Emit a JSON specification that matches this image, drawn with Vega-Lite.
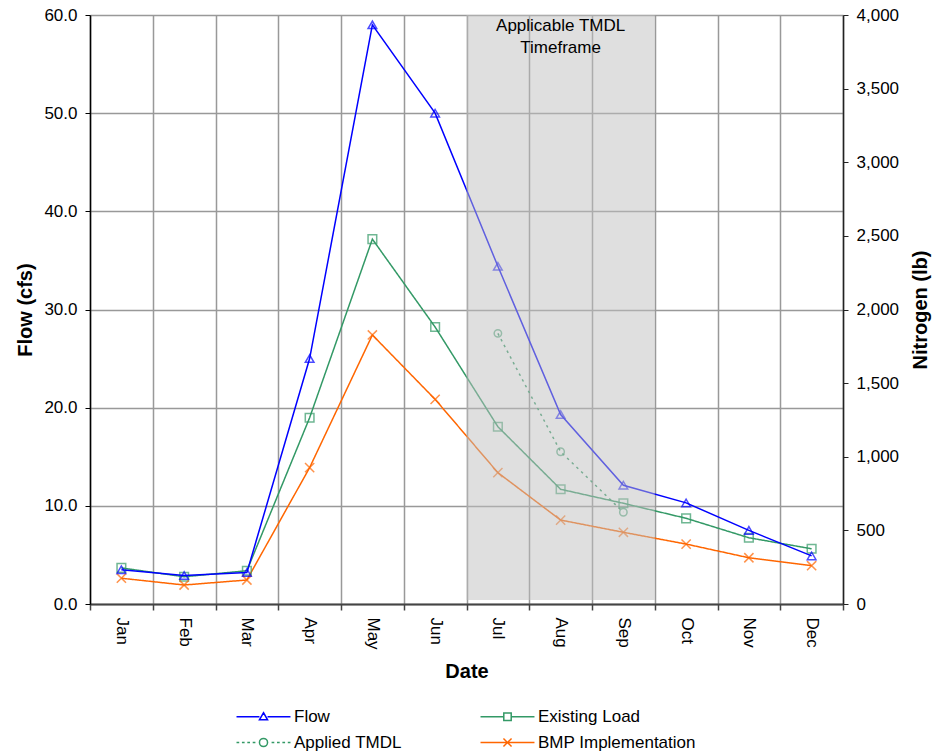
{
  "$schema": "https://vega.github.io/schema/vega-lite/v6.json",
  "width": 753,
  "height": 589,
  "autosize": "none",
  "padding": {"left": 90, "top": 15, "right": 89, "bottom": 151},
  "background": "white",
  "config": {
    "font": "Liberation Sans",
    "view": {"stroke": null},
    "axis": {"labelFontSize": 17, "labelColor": "#000", "titleFontSize": 20, "titleFontWeight": "bold", "titleColor": "#000", "labelFlush": false},
    "text": {"font": "Liberation Sans"}
  },
  "datasets": {
    "obs": [
      {"month": "Jan", "series": "Flow", "value": 3.5},
      {"month": "Feb", "series": "Flow", "value": 2.9},
      {"month": "Mar", "series": "Flow", "value": 3.2},
      {"month": "Apr", "series": "Flow", "value": 25.0},
      {"month": "May", "series": "Flow", "value": 59.0},
      {"month": "Jun", "series": "Flow", "value": 50.0},
      {"month": "Jul", "series": "Flow", "value": 34.4},
      {"month": "Aug", "series": "Flow", "value": 19.3},
      {"month": "Sep", "series": "Flow", "value": 12.1},
      {"month": "Oct", "series": "Flow", "value": 10.3},
      {"month": "Nov", "series": "Flow", "value": 7.5},
      {"month": "Dec", "series": "Flow", "value": 4.9},
      {"month": "Jan", "series": "Existing Load", "value": 245},
      {"month": "Feb", "series": "Existing Load", "value": 185},
      {"month": "Mar", "series": "Existing Load", "value": 226},
      {"month": "Apr", "series": "Existing Load", "value": 1265},
      {"month": "May", "series": "Existing Load", "value": 2478},
      {"month": "Jun", "series": "Existing Load", "value": 1881},
      {"month": "Jul", "series": "Existing Load", "value": 1204},
      {"month": "Aug", "series": "Existing Load", "value": 779},
      {"month": "Sep", "series": "Existing Load", "value": 684},
      {"month": "Oct", "series": "Existing Load", "value": 582},
      {"month": "Nov", "series": "Existing Load", "value": 450},
      {"month": "Dec", "series": "Existing Load", "value": 375},
      {"month": "Jul", "series": "Applied TMDL", "value": 1838},
      {"month": "Aug", "series": "Applied TMDL", "value": 1034},
      {"month": "Sep", "series": "Applied TMDL", "value": 623},
      {"month": "Jan", "series": "BMP Implementation", "value": 175},
      {"month": "Feb", "series": "BMP Implementation", "value": 129},
      {"month": "Mar", "series": "BMP Implementation", "value": 163},
      {"month": "Apr", "series": "BMP Implementation", "value": 926},
      {"month": "May", "series": "BMP Implementation", "value": 1827},
      {"month": "Jun", "series": "BMP Implementation", "value": 1390},
      {"month": "Jul", "series": "BMP Implementation", "value": 892},
      {"month": "Aug", "series": "BMP Implementation", "value": 570},
      {"month": "Sep", "series": "BMP Implementation", "value": 487},
      {"month": "Oct", "series": "BMP Implementation", "value": 407},
      {"month": "Nov", "series": "BMP Implementation", "value": 314},
      {"month": "Dec", "series": "BMP Implementation", "value": 260}
    ],
    "shade": [{"month": "Jul"}, {"month": "Aug"}, {"month": "Sep"}],
    "note": [{"month": "Aug", "label": ["Applicable TMDL", "Timeframe"]}]
  },
  "encoding": {
    "x": {
      "field": "month", "type": "ordinal",
      "scale": {"type": "band", "domain": ["Jan", "Feb", "Mar", "Apr", "May", "Jun", "Jul", "Aug", "Sep", "Oct", "Nov", "Dec"], "paddingInner": 0, "paddingOuter": 0},
      "axis": {"title": "Date", "labelAngle": 90, "labelAlign": "left", "labelBaseline": "middle", "tickBand": "extent", "grid": true, "gridColor": "#999", "gridWidth": 1.5, "domainColor": "#444", "domainWidth": 2, "tickColor": "#444", "tickWidth": 1.5, "tickSize": 6, "labelPadding": 7, "titlePadding": 12}
    }
  },
  "layer": [
    {
      "data": {"name": "obs"},
      "transform": [{"filter": "datum.series !== 'Flow'"}],
      "encoding": {
        "y": {"field": "value", "type": "quantitative", "scale": {"domain": [0, 4000]},
          "axis": {"title": "Nitrogen (lb)", "orient": "right", "format": ",.0f", "values": [0, 500, 1000, 1500, 2000, 2500, 3000, 3500, 4000], "grid": false, "domainColor": "#222", "domainWidth": 1.5, "tickColor": "#222", "tickSize": 5, "labelPadding": 8, "titleAngle": 270, "titleBaseline": "top", "titlePadding": 12}},
        "color": {"field": "series", "type": "nominal",
          "scale": {"domain": ["Flow", "Existing Load", "Applied TMDL", "BMP Implementation"], "range": ["#0000FF", "#339966", "#339966", "#FF6600"]},
          "legend": {"title": null, "orient": "none", "legendX": 165, "legendY": 693, "direction": "horizontal", "columns": 2, "columnPadding": 75, "rowPadding": 8, "labelFontSize": 17, "labelColor": "#000", "labelOffset": 22, "symbolSize": 182,
            "encode": {"symbols": {"update": {
              "shape": {"signal": "datum.value === 'Flow' ? 'M-4,0L-0.6,0M0.6,0L4,0M0,-0.6L0.6,0.45L-0.6,0.45Z' : datum.value === 'Existing Load' ? 'M-4,0L-0.55,0M0.55,0L4,0M-0.55,-0.55L0.55,-0.55L0.55,0.55L-0.55,0.55Z' : datum.value === 'Applied TMDL' ? 'M-4,0L-3.6,0M-3.2,0L-2.8,0M-2.4,0L-2,0M-1.6,0L-1.2,0M1.2,0L1.6,0M2,0L2.4,0M2.8,0L3.2,0M3.6,0L4,0M0.6,0A0.6,0.6,0,1,1,-0.6,0A0.6,0.6,0,1,1,0.6,0' : 'M-4,0L4,0M-0.6,-0.6L0.6,0.6M-0.6,0.6L0.6,-0.6'"},
              "fill": {"value": "transparent"},
              "stroke": {"scale": "color", "field": "value"},
              "strokeWidth": {"value": 1.5},
              "opacity": {"value": 1},
              "size": {"value": 182}
            }}}}
        }
      },
      "layer": [
        {"mark": {"type": "line", "strokeWidth": 1.5},
         "encoding": {"strokeDash": {"field": "series", "type": "nominal", "scale": {"domain": ["Existing Load", "Applied TMDL", "BMP Implementation"], "range": [[1, 0], [2.5, 4], [1, 0]]}, "legend": null}}},
        {"transform": [{"filter": "datum.series === 'Existing Load'"}],
         "mark": {"type": "point", "shape": "square", "filled": false, "size": 75, "strokeWidth": 1.5}},
        {"transform": [{"filter": "datum.series === 'Applied TMDL'"}],
         "mark": {"type": "point", "shape": "circle", "filled": false, "size": 55, "strokeWidth": 1.5}},
        {"transform": [{"filter": "datum.series === 'BMP Implementation'"}],
         "mark": {"type": "point", "shape": "M-1,-1L1,1M-1,1L1,-1", "filled": false, "size": 85, "strokeWidth": 1.5}}
      ]
    },
    {
      "data": {"name": "obs"},
      "transform": [{"filter": "datum.series === 'Flow'"}],
      "encoding": {
        "y": {"field": "value", "type": "quantitative", "scale": {"domain": [0, 60]},
          "axis": {"title": "Flow (cfs)", "orient": "left", "format": ".1f", "values": [0, 10, 20, 30, 40, 50, 60], "grid": true, "gridColor": "#999", "gridWidth": 1.5, "domainColor": "#000", "domainWidth": 1.5, "tickColor": "#000", "tickSize": 5, "labelPadding": 8, "titlePadding": 8}},
        "color": {"field": "series", "type": "nominal",
          "scale": {"domain": ["Flow", "Existing Load", "Applied TMDL", "BMP Implementation"], "range": ["#0000FF", "#339966", "#339966", "#FF6600"]}}
      },
      "layer": [
        {"mark": {"type": "line", "strokeWidth": 1.5}},
        {"mark": {"type": "point", "shape": "triangle-up", "filled": false, "size": 75, "strokeWidth": 1.5}}
      ]
    },
    {
      "data": {"name": "shade"},
      "mark": {"type": "rect", "color": "#c0c0c0", "opacity": 0.5},
      "encoding": {
        "y": {"datum": 60, "type": "quantitative", "scale": {"domain": [0, 60]}, "axis": null},
        "y2": {"datum": 0.4}
      }
    },
    {
      "data": {"name": "note"},
      "mark": {"type": "text", "fontSize": 17, "baseline": "top", "align": "center", "lineHeight": 22, "dy": 3, "color": "#000"},
      "encoding": {
        "y": {"datum": 60, "type": "quantitative", "scale": {"domain": [0, 60]}, "axis": null},
        "text": {"field": "label"}
      }
    }
  ],
  "resolve": {"scale": {"y": "independent"}}
}
